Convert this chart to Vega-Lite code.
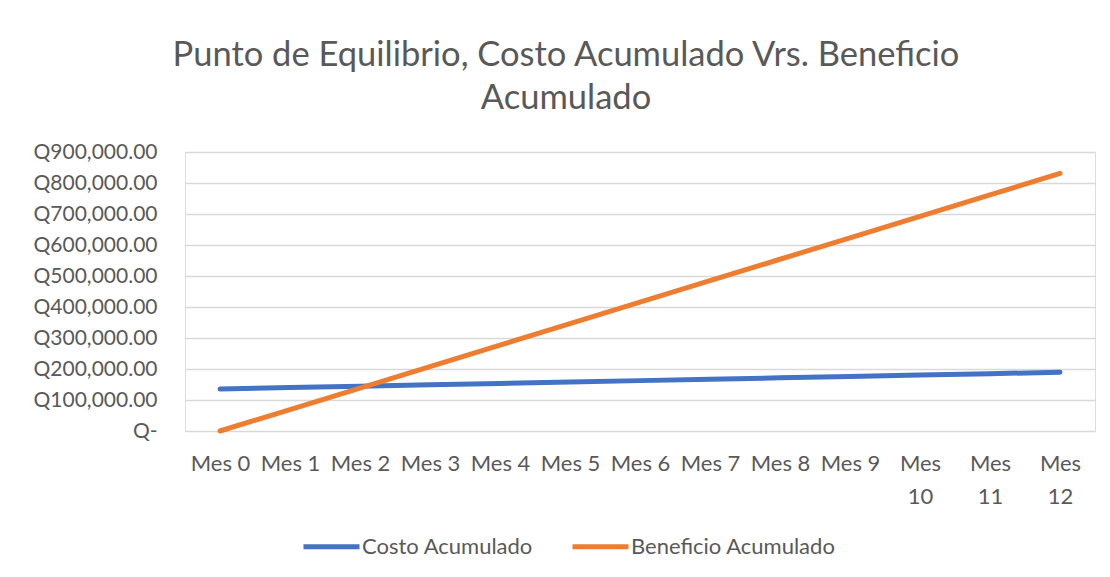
{
  "$schema": "https://vega.github.io/schema/vega-lite/v6.json",
  "width": 910,
  "height": 279,
  "autosize": {"type": "none"},
  "padding": {"left": 185, "top": 152, "right": 15, "bottom": 146},
  "background": "white",
  "title": {
    "text": ["Punto de Equilibrio, Costo Acumulado Vrs. Beneficio", "Acumulado"],
    "anchor": "middle",
    "frame": "group",
    "dx": -74,
    "offset": 25,
    "font": "Lato",
    "fontSize": 34.5,
    "fontWeight": "normal",
    "color": "#595959",
    "lineHeight": 43
  },
  "data": {
    "values": [
      {"mes": "Mes 0", "serie": "Costo Acumulado", "valor": 135500},
      {"mes": "Mes 1", "serie": "Costo Acumulado", "valor": 140000},
      {"mes": "Mes 2", "serie": "Costo Acumulado", "valor": 144500},
      {"mes": "Mes 3", "serie": "Costo Acumulado", "valor": 149000},
      {"mes": "Mes 4", "serie": "Costo Acumulado", "valor": 153500},
      {"mes": "Mes 5", "serie": "Costo Acumulado", "valor": 158000},
      {"mes": "Mes 6", "serie": "Costo Acumulado", "valor": 162500},
      {"mes": "Mes 7", "serie": "Costo Acumulado", "valor": 167000},
      {"mes": "Mes 8", "serie": "Costo Acumulado", "valor": 171500},
      {"mes": "Mes 9", "serie": "Costo Acumulado", "valor": 176000},
      {"mes": "Mes 10", "serie": "Costo Acumulado", "valor": 180500},
      {"mes": "Mes 11", "serie": "Costo Acumulado", "valor": 185000},
      {"mes": "Mes 12", "serie": "Costo Acumulado", "valor": 189500},
      {"mes": "Mes 0", "serie": "Beneficio Acumulado", "valor": 0},
      {"mes": "Mes 1", "serie": "Beneficio Acumulado", "valor": 69250},
      {"mes": "Mes 2", "serie": "Beneficio Acumulado", "valor": 138500},
      {"mes": "Mes 3", "serie": "Beneficio Acumulado", "valor": 207750},
      {"mes": "Mes 4", "serie": "Beneficio Acumulado", "valor": 277000},
      {"mes": "Mes 5", "serie": "Beneficio Acumulado", "valor": 346250},
      {"mes": "Mes 6", "serie": "Beneficio Acumulado", "valor": 415500},
      {"mes": "Mes 7", "serie": "Beneficio Acumulado", "valor": 484750},
      {"mes": "Mes 8", "serie": "Beneficio Acumulado", "valor": 554000},
      {"mes": "Mes 9", "serie": "Beneficio Acumulado", "valor": 623250},
      {"mes": "Mes 10", "serie": "Beneficio Acumulado", "valor": 692500},
      {"mes": "Mes 11", "serie": "Beneficio Acumulado", "valor": 761750},
      {"mes": "Mes 12", "serie": "Beneficio Acumulado", "valor": 831000}
    ]
  },
  "mark": {"type": "line", "strokeWidth": 5, "strokeCap": "round", "strokeJoin": "round"},
  "encoding": {
    "x": {
      "field": "mes",
      "type": "ordinal",
      "sort": null,
      "scale": {"padding": 0.5},
      "axis": {
        "title": null,
        "labelAngle": 0,
        "domain": false,
        "ticks": false,
        "grid": false,
        "labelFont": "Lato",
        "labelFontSize": 22,
        "labelColor": "#595959",
        "labelPadding": 22,
        "labelBaseline": "top",
        "labelLineHeight": 33,
        "labelExpr": "length(datum.label) > 5 ? split(datum.label, ' ') : datum.label"
      }
    },
    "y": {
      "field": "valor",
      "type": "quantitative",
      "scale": {"domain": [0, 900000], "nice": false},
      "axis": {
        "title": null,
        "values": [0, 100000, 200000, 300000, 400000, 500000, 600000, 700000, 800000, 900000],
        "domain": false,
        "ticks": false,
        "gridColor": "#D9D9D9",
        "gridWidth": 1.5,
        "labelFont": "Lato",
        "labelFontSize": 21,
        "labelColor": "#595959",
        "labelPadding": 28,
        "labelExpr": "datum.value == 0 ? 'Q-' : 'Q' + format(datum.value, ',.2f')"
      }
    },
    "color": {
      "field": "serie",
      "type": "nominal",
      "sort": ["Costo Acumulado", "Beneficio Acumulado"],
      "scale": {"domain": ["Costo Acumulado", "Beneficio Acumulado"], "range": ["#4472C4", "#ED7D31"]},
      "legend": {
        "title": null,
        "orient": "none",
        "direction": "horizontal",
        "legendX": 116,
        "legendY": 364,
        "symbolType": "stroke",
        "symbolSize": 3136,
        "symbolStrokeWidth": 5,
        "labelFont": "Lato",
        "labelFontSize": 22,
        "labelColor": "#595959",
        "labelOffset": 0,
        "labelLimit": 400,
        "columnPadding": 28,
        "padding": 0
      }
    }
  }
}
